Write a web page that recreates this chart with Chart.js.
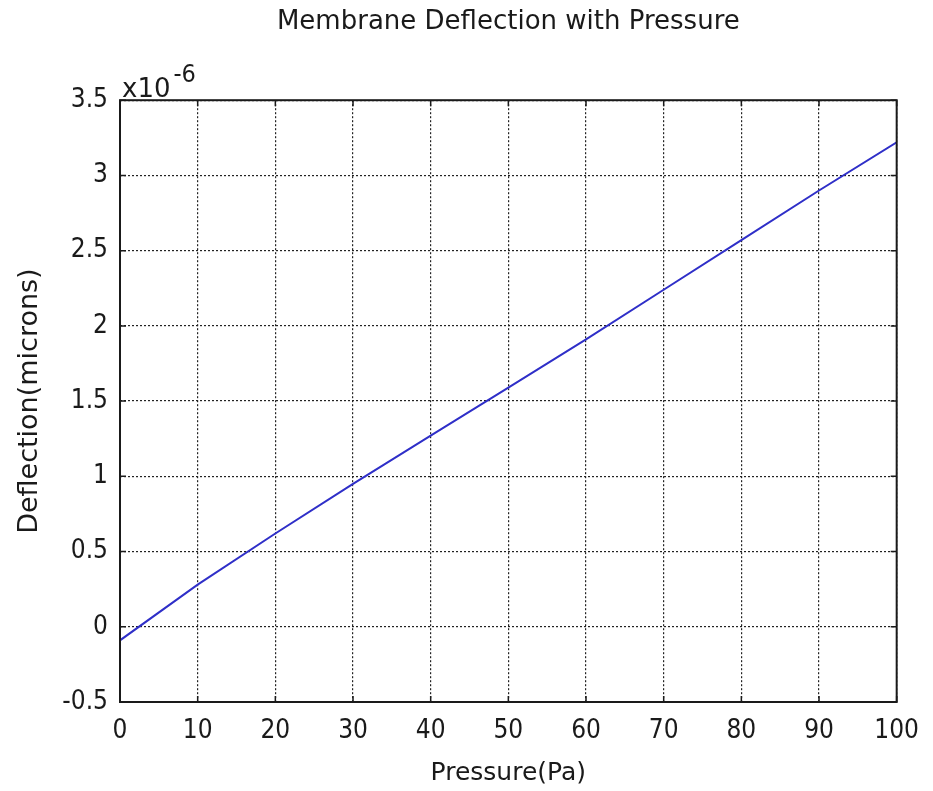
<!DOCTYPE html>
<html>
<head>
<meta charset="utf-8">
<script src="https://cdn.jsdelivr.net/npm/chart.js@4/dist/chart.umd.min.js"></script>
<style>
  html, body { margin: 0; padding: 0; background: #ffffff; }
  #wrap { width: 933px; height: 791px; position: relative; }
</style>
</head>
<body>
<div id="wrap"><canvas id="c" width="933" height="791"></canvas></div>
<script>
// Data (deflection in units of 1e-6, as shown by the axis multiplier)
const pressure = [0, 10, 20, 30, 40, 50, 60, 70, 80, 90, 100];
const deflection = [-0.09, 0.28, 0.62, 0.95, 1.27, 1.59, 1.91, 2.24, 2.57, 2.90, 3.22];
const yExponent = -6;
const xTickValues = [0, 10, 20, 30, 40, 50, 60, 70, 80, 90, 100];
const yTickValues = [-0.5, 0, 0.5, 1, 1.5, 2, 2.5, 3, 3.5];
const chartTitle = 'Membrane Deflection with Pressure';
const xTitle = 'Pressure(Pa)';
const yTitle = 'Deflection(microns)';

const FONT = "'DejaVu Sans Condensed', 'DejaVu Sans', Verdana, sans-serif";
const TFONT = "'DejaVu Sans', Verdana, sans-serif";
const ink = '#1a1a1a';

const points = pressure.map((p, i) => ({ x: p, y: deflection[i] }));

const framePlugin = {
  id: 'frame',
  afterDraw(chart) {
    const { ctx, chartArea: a, scales } = chart;
    ctx.save();
    ctx.strokeStyle = ink;
    ctx.lineWidth = 1.5;
    const tl = 6;
    xTickValues.forEach(v => {
      const px = scales.x.getPixelForValue(v);
      ctx.beginPath();
      ctx.moveTo(px, a.bottom); ctx.lineTo(px, a.bottom - tl);
      ctx.moveTo(px, a.top); ctx.lineTo(px, a.top + tl);
      ctx.stroke();
    });
    yTickValues.forEach(v => {
      const py = scales.y.getPixelForValue(v);
      ctx.beginPath();
      ctx.moveTo(a.left, py); ctx.lineTo(a.left + tl, py);
      ctx.moveTo(a.right, py); ctx.lineTo(a.right - tl, py);
      ctx.stroke();
    });
    ctx.lineWidth = 2;
    ctx.strokeRect(a.left, a.top, a.right - a.left, a.bottom - a.top);
    // exponent multiplier
    ctx.fillStyle = ink;
    ctx.textBaseline = 'alphabetic';
    ctx.textAlign = 'left';
    ctx.font = '26px ' + TFONT;
    const base = 'x10';
    ctx.fillText(base, a.left + 2, a.top - 3);
    const w = ctx.measureText(base).width;
    ctx.font = '25px ' + FONT;
    ctx.fillText(String(yExponent), a.left + 5 + w, a.top - 18);
    ctx.restore();
  }
};

new Chart(document.getElementById('c'), {
  type: 'line',
  data: {
    datasets: [{
      data: points,
      borderColor: '#2f2fc8',
      borderWidth: 2,
      pointRadius: 0,
      fill: false,
      tension: 0
    }]
  },
  plugins: [framePlugin],
  options: {
    responsive: false,
    animation: false,
    devicePixelRatio: 1,
    layout: { padding: { left: 0, right: 31, top: 0, bottom: 0 } },
    plugins: {
      legend: { display: false },
      tooltip: { enabled: false },
      title: {
        display: true,
        fullSize: false,
        text: chartTitle,
        color: ink,
        font: { family: TFONT, size: 26, weight: 'normal', lineHeight: 1.2 },
        padding: { top: 7, bottom: 62 }
      }
    },
    scales: {
      x: {
        type: 'linear',
        min: 0, max: 100,
        afterBuildTicks(scale) { scale.ticks = xTickValues.map(v => ({ value: v })); },
        afterFit(scale) { scale.height = 89; },
        ticks: { color: ink, font: { family: FONT, size: 26 }, padding: 14, maxRotation: 0 },
        grid: { color: '#222', lineWidth: 1.2, drawTicks: false },
        border: { display: false, dash: [2, 2] },
        title: {
          display: true, text: xTitle, color: ink,
          font: { family: TFONT, size: 25 }, padding: { top: 0, bottom: 3 }
        }
      },
      y: {
        type: 'linear',
        min: -0.5, max: 3.5,
        afterBuildTicks(scale) { scale.ticks = yTickValues.map(v => ({ value: v })); },
        afterFit(scale) { scale.width = 120; },
        ticks: { color: ink, font: { family: FONT, size: 26 }, padding: 12,
                 callback: v => String(v) },
        grid: { color: '#222', lineWidth: 1.2, drawTicks: false },
        border: { display: false, dash: [2, 2] },
        title: {
          display: true, text: yTitle, color: ink,
          font: { family: TFONT, size: 27 }, padding: { top: 14, bottom: 0 }
        }
      }
    }
  }
});
</script>
</body>
</html>
